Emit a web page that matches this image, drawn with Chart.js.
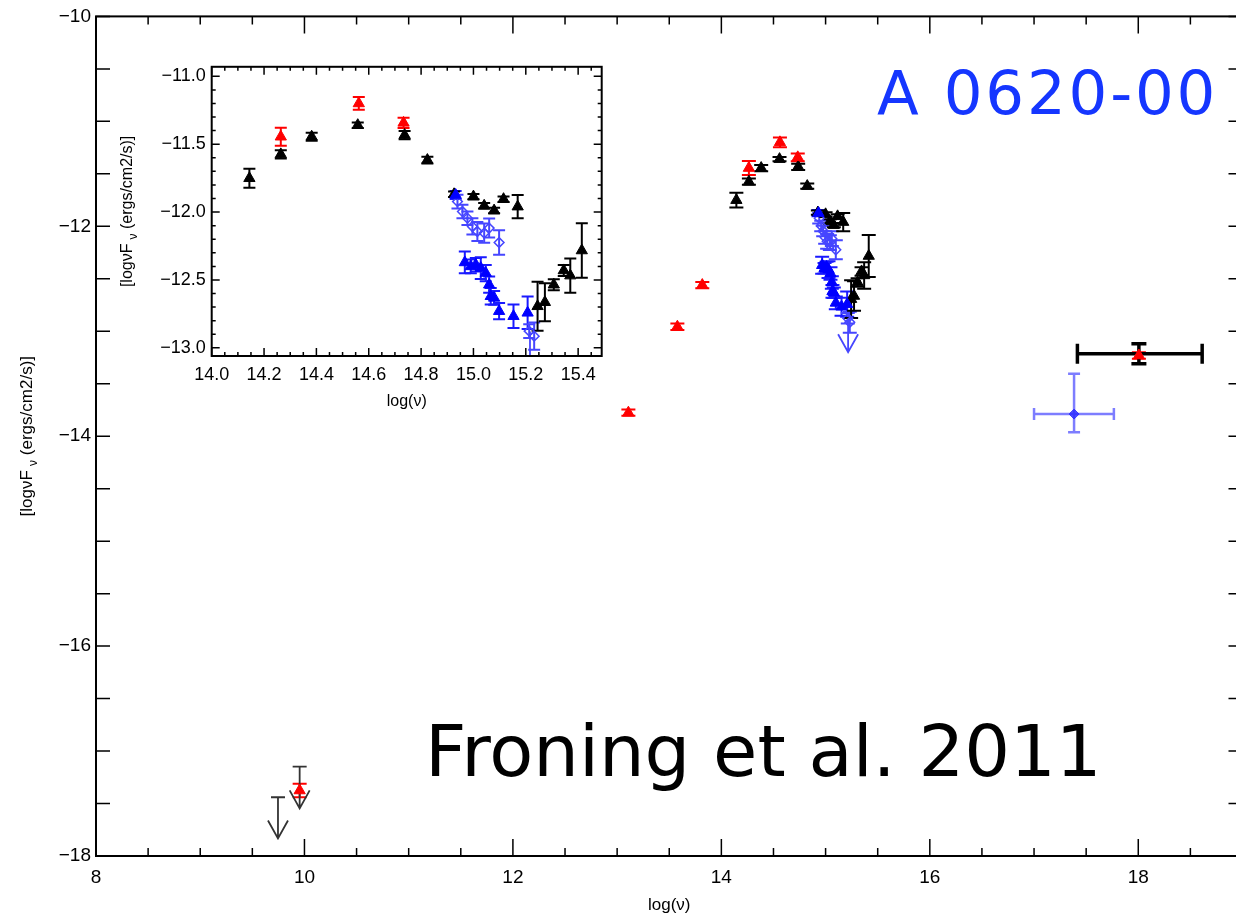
<!DOCTYPE html>
<html>
<head>
<meta charset="utf-8">
<title>A 0620-00 SED</title>
<script src="https://cdn.jsdelivr.net/npm/chart.js@4.4.1/dist/chart.umd.min.js"></script>
<style>
  html, body { margin: 0; padding: 0; background: #fff; overflow: hidden; }
  #wrap { position: relative; width: 1236px; height: 917px; overflow: hidden; }
  #sed { position: absolute; left: 0; top: 0; }
  #zoom { position: absolute; left: 112px; top: 50px; background: #fff; }
</style>
</head>
<body>
<div id="wrap">
  <canvas id="sed" width="1250" height="917"></canvas>
  <canvas id="zoom" width="500" height="370"></canvas>
</div>
<script>
// log(nu) and log(nu F_nu) in ergs/cm2/s

// black triangles: optical / UV photometry
const blackNu   = [14.144, 14.264, 14.382, 14.558, 14.737, 14.824, 14.926, 15.000, 15.041, 15.079, 15.115, 15.169, 15.245, 15.273, 15.307, 15.345, 15.370, 15.414];
const blackFlux = [-11.751, -11.575, -11.445, -11.360, -11.433, -11.617, -11.869, -11.886, -11.954, -11.989, -11.905, -11.960, -12.694, -12.664, -12.535, -12.430, -12.468, -12.283];
const blackErr  = [0.07, 0.03, 0.03, 0.02, 0.03, 0.025, 0.02, 0.02, 0.02, 0.02, 0.02, 0.086, 0.18, 0.14, 0.04, 0.04, 0.126, 0.2];

// red triangles: radio, mid-IR, near-IR, X-ray
const redNu   = [9.954, 13.108, 13.578, 13.817, 14.264, 14.562, 14.733, 18.006];
const redFlux = [-17.376, -13.776, -12.957, -12.560, -11.445, -11.200, -11.343, -13.231];
const redErr  = [0.065, 0.03, 0.03, 0.03, 0.067, 0.047, 0.037, 0.03];

// blue filled triangles: UV spectrum bins
const uvNu   = [14.932, 14.967, 14.990, 15.009, 15.028, 15.047, 15.060, 15.066, 15.079, 15.098, 15.153, 15.207];
const uvFlux = [-11.874, -12.371, -12.400, -12.388, -12.412, -12.449, -12.535, -12.620, -12.632, -12.730, -12.767, -12.742];
const uvErr  = [0.03, 0.08, 0.05, 0.05, 0.08, 0.06, 0.06, 0.06, 0.05, 0.06, 0.086, 0.12];

// blue open diamonds: second UV epoch
const diaNu   = [14.939, 14.958, 14.977, 14.996, 15.015, 15.041, 15.060, 15.098, 15.213, 15.232];
const diaFlux = [-11.923, -11.996, -12.045, -12.106, -12.143, -12.155, -12.118, -12.224, -12.877, -12.914];
const diaErr  = [0.05, 0.05, 0.05, 0.06, 0.07, 0.07, 0.07, 0.09, 0.05, 0.10];

// X-ray band
const xbarNu = [18.006], xbarFlux = [-13.215], xbarLo = [17.416], xbarHi = [18.613], xbarErr = [0.095];
const xblueNu = [17.384], xblueFlux = [-13.789], xblueLo = [17.0], xblueHi = [17.766], xblueUp = [0.385], xblueDn = [0.173];

// upper limits (bar top, arrow tip)
const radioLimNu = [9.746, 9.954], radioLimTop = [-17.44, -17.149], radioLimTip = [-17.833, -17.546];
const uvLimNu = [15.216], uvLimTop = [-12.88], uvLimTip = [-13.20];

// tick labels
const mainXTicks  = [8, 10, 12, 14, 16, 18];
const mainYTicks  = [-18, -16, -14, -12, -10];
const insetXTicks = [14.0, 14.2, 14.4, 14.6, 14.8, 15.0, 15.2, 15.4];
const insetYTicks = [-13.0, -12.5, -12.0, -11.5, -11.0];

Chart.defaults.font.family = '"Liberation Sans", Arial, sans-serif';

function pts(nu, flux, up, dn, lo, hi) {
  return nu.map((v, i) => ({
    x: v, y: flux[i],
    up: up ? up[i] : 0,
    dn: dn ? dn[i] : (up ? up[i] : 0),
    lo: lo ? lo[i] : null,
    hi: hi ? hi[i] : null
  }));
}
function lims(nu, top, tip) {
  return nu.map((v, i) => ({ x: v, y: top[i], tip: tip[i] }));
}

function buildDatasets(r) {
  return [
    { data: pts(redNu, redFlux, redErr), pointStyle: 'triangle', pointRadius: r,
      backgroundColor: '#ff0000', borderColor: '#ff0000', pointBorderWidth: 1, errColor: '#ff0000' },
    { data: pts(uvNu, uvFlux, uvErr), pointStyle: 'triangle', pointRadius: r,
      backgroundColor: '#0000ff', borderColor: '#0000ff', pointBorderWidth: 1, errColor: '#1a1aff' },
    { data: pts(diaNu, diaFlux, diaErr), pointStyle: 'rectRot', pointRadius: r * 0.75,
      backgroundColor: 'rgba(255,255,255,0)', borderColor: '#4646ff', pointBorderWidth: 1.5, errColor: '#4646ff' },
    { data: pts(blackNu, blackFlux, blackErr), pointStyle: 'triangle', pointRadius: r,
      backgroundColor: '#000', borderColor: '#000', pointBorderWidth: 1, errColor: '#000' },
    { data: pts(xbarNu, xbarFlux, xbarErr, null, xbarLo, xbarHi), pointRadius: 0,
      errColor: '#000', errWidth: 3.5, capX: 7.5, capY: 10 },
    { data: pts(xblueNu, xblueFlux, xblueUp, xblueDn, xblueLo, xblueHi), pointStyle: 'rectRot', pointRadius: 5,
      backgroundColor: 'rgba(40,40,255,0.8)', borderColor: 'rgba(40,40,255,0.8)',
      errColor: 'rgba(70,70,255,0.7)', errWidth: 2.5, capX: 6, capY: 6 },
    { data: lims(radioLimNu, radioLimTop, radioLimTip), pointRadius: 0, limit: true, limitCap: true,
      errColor: '#333', errWidth: 1.8 },
    { data: lims(uvLimNu, uvLimTop, uvLimTip), pointRadius: 0, limit: true, limitCap: false,
      errColor: '#4646ff', errWidth: 1.8 }
  ];
}

// error bars and upper-limit arrows, drawn under the markers
const errorBars = {
  id: 'errorBars',
  beforeDatasetsDraw(chart, args, o) {
    const { ctx, chartArea: a, scales: { x, y } } = chart;
    ctx.save();
    ctx.beginPath();
    ctx.rect(a.left, a.top, a.right - a.left, a.bottom - a.top);
    ctx.clip();
    chart.data.datasets.forEach(ds => {
      if (!ds.errColor) return;
      ctx.strokeStyle = ds.errColor;
      ctx.lineWidth = ds.errWidth || o.width;
      const cx = ds.capX || o.cap, cy = ds.capY || o.cap;
      ds.data.forEach(p => {
        const px = x.getPixelForValue(p.x), py = y.getPixelForValue(p.y);
        ctx.beginPath();
        if (ds.limit) {
          const tip = y.getPixelForValue(p.tip);
          if (ds.limitCap) { ctx.moveTo(px - o.cap, py); ctx.lineTo(px + o.cap, py); }
          ctx.moveTo(px, py); ctx.lineTo(px, tip);
          ctx.moveTo(px - o.head, tip - o.headLen); ctx.lineTo(px, tip); ctx.lineTo(px + o.head, tip - o.headLen);
        } else {
          if (p.up || p.dn) {
            const t = y.getPixelForValue(p.y + p.up), b = y.getPixelForValue(p.y - p.dn);
            ctx.moveTo(px, t); ctx.lineTo(px, b);
            ctx.moveTo(px - cx, t); ctx.lineTo(px + cx, t);
            ctx.moveTo(px - cx, b); ctx.lineTo(px + cx, b);
          }
          if (p.lo != null) {
            const l = x.getPixelForValue(p.lo), r = x.getPixelForValue(p.hi);
            ctx.moveTo(l, py); ctx.lineTo(r, py);
            ctx.moveTo(l, py - cy); ctx.lineTo(l, py + cy);
            ctx.moveTo(r, py - cy); ctx.lineTo(r, py + cy);
          }
        }
        ctx.stroke();
      });
    });
    ctx.restore();
  }
};

// box frame with inward major/minor ticks on all four sides
const frame = {
  id: 'frame',
  afterDatasetsDraw(chart, args, o) {
    const { ctx, chartArea: a, scales: { x, y } } = chart;
    ctx.save();
    ctx.strokeStyle = '#000';
    ctx.lineWidth = o.lineWidth;
    ctx.strokeRect(a.left, a.top, a.right - a.left, a.bottom - a.top);
    ctx.beginPath();
    for (let n = Math.ceil(x.min / o.xMinor - 1e-6); n * o.xMinor <= x.max + 1e-6; n++) {
      const px = x.getPixelForValue(n * o.xMinor);
      const len = n % o.xEvery === 0 ? o.xMajorLen : o.xMinorLen;
      ctx.moveTo(px, a.bottom); ctx.lineTo(px, a.bottom - len);
      ctx.moveTo(px, a.top); ctx.lineTo(px, a.top + len);
    }
    for (let n = Math.ceil(y.min / o.yMinor - 1e-6); n * o.yMinor <= y.max + 1e-6; n++) {
      const py = y.getPixelForValue(n * o.yMinor);
      const len = n % o.yEvery === 0 ? o.yMajorLen : o.yMinorLen;
      ctx.moveTo(a.left, py); ctx.lineTo(a.left + len, py);
      ctx.moveTo(a.right, py); ctx.lineTo(a.right - len, py);
    }
    ctx.lineWidth = o.tickWidth;
    ctx.stroke();
    ctx.restore();
  }
};

// axis titles, with the subscript nu on the flux label
const axisTitles = {
  id: 'axisTitles',
  afterDraw(chart, args, o) {
    const { ctx, chartArea: a } = chart;
    const font = o.size + 'px "Liberation Sans"';
    const subFont = Math.round(o.size * 0.72) + 'px "Liberation Sans"';
    ctx.save();
    ctx.fillStyle = '#000';
    ctx.font = font;
    ctx.textAlign = 'center';
    ctx.textBaseline = 'middle';
    ctx.fillText('log(\u03bd)', (a.left + a.right) / 2, a.bottom + o.xGap);

    ctx.translate(a.left - o.yGap, (a.top + a.bottom) / 2);
    ctx.rotate(-Math.PI / 2);
    ctx.textAlign = 'left';
    ctx.textBaseline = 'alphabetic';
    const p1 = '[log\u03bdF', sub = '\u03bd', p2 = ' (ergs/cm2/s)]';
    const w1 = ctx.measureText(p1).width, w3 = ctx.measureText(p2).width;
    ctx.font = subFont;
    const w2 = ctx.measureText(sub).width;
    const gap = o.size * 0.25;
    let cx = -(w1 + gap + w2 + w3) / 2;
    const base = o.size * 0.35;
    ctx.font = font;
    ctx.fillText(p1, cx, base);
    cx += w1 + gap;
    ctx.font = subFont;
    ctx.fillText(sub, cx, base + o.size * 0.3);
    cx += w2;
    ctx.font = font;
    ctx.fillText(p2, cx, base);
    ctx.restore();
  }
};

// source name and reference
function spacedText(ctx, text, x, y, gap) {
  for (const ch of text) {
    ctx.fillText(ch, x, y);
    x += ctx.measureText(ch).width + gap;
  }
}
const captions = {
  id: 'captions',
  afterDraw(chart) {
    const ctx = chart.ctx;
    ctx.save();
    ctx.textAlign = 'left';
    ctx.textBaseline = 'alphabetic';
    ctx.font = '61px "DejaVu Sans"';
    ctx.fillStyle = '#1536ff';
    spacedText(ctx, 'A 0620-00', 877, 114, 2.8);
    ctx.font = '72px "DejaVu Sans"';
    ctx.fillStyle = '#000';
    ctx.fillText('Froning et al. 2011', 425, 776);
    ctx.restore();
  }
};

function scaleOpts(min, max, tickVals, fmt, pad, size, fixed, horizontal) {
  return {
    type: 'linear', min, max,
    grid: { display: false, drawTicks: false },
    border: { display: false },
    afterBuildTicks: s => { s.ticks = tickVals.map(v => ({ value: v })); },
    afterFit: s => { if (horizontal) s.height = fixed; else s.width = fixed; },
    ticks: {
      autoSkip: false, maxRotation: 0, minRotation: 0, padding: pad, color: '#000',
      font: { size }, callback: v => fmt(v)
    }
  };
}
const fmt0 = v => String(v).replace('-', '\u2212');
const fmt1 = v => v.toFixed(1).replace('-', '\u2212');

new Chart(document.getElementById('sed'), {
  type: 'scatter',
  data: { datasets: buildDatasets(6.5) },
  options: {
    responsive: false,
    animation: false,
    events: [],
    layout: { padding: { left: 0, top: 10, right: 6, bottom: 0 } },
    scales: {
      x: scaleOpts(8, 19, mainXTicks, fmt0, 10, 19, 61, true),
      y: scaleOpts(-18, -10, mainYTicks, fmt0, 5, 19, 96, false)
    },
    plugins: {
      legend: { display: false },
      tooltip: { enabled: false },
      errorBars: { width: 2, cap: 7, head: 10, headLen: 18 },
      frame: { lineWidth: 2, tickWidth: 1.5,
        xMinor: 0.5, xEvery: 4, xMajorLen: 17, xMinorLen: 8,
        yMinor: 0.5, yEvery: 4, yMajorLen: 14, yMinorLen: 14 },
      axisTitles: { size: 17, xGap: 49, yGap: 70 }
    }
  },
  plugins: [errorBars, frame, axisTitles, captions]
});

const insetSets = buildDatasets(6.5);
insetSets.forEach(ds => { ds.clip = 0; });

new Chart(document.getElementById('zoom'), {
  type: 'scatter',
  data: { datasets: insetSets },
  options: {
    responsive: false,
    animation: false,
    events: [],
    layout: { padding: { left: 0, top: 16.7, right: 10.3, bottom: 0 } },
    scales: {
      x: scaleOpts(14.0, 15.49, insetXTicks, fmt1, 8, 18, 64, true),
      y: scaleOpts(-13.06, -10.93, insetYTicks, fmt1, 6, 18, 99.7, false)
    },
    plugins: {
      legend: { display: false },
      tooltip: { enabled: false },
      errorBars: { width: 2, cap: 6, head: 10, headLen: 18 },
      frame: { lineWidth: 2, tickWidth: 1.5,
        xMinor: 0.05, xEvery: 4, xMajorLen: 8, xMinorLen: 4,
        yMinor: 0.1, yEvery: 5, yMajorLen: 8, yMinorLen: 4 },
      axisTitles: { size: 16, xGap: 46, yGap: 85 }
    }
  },
  plugins: [errorBars, frame, axisTitles]
});
</script>
</body>
</html>
